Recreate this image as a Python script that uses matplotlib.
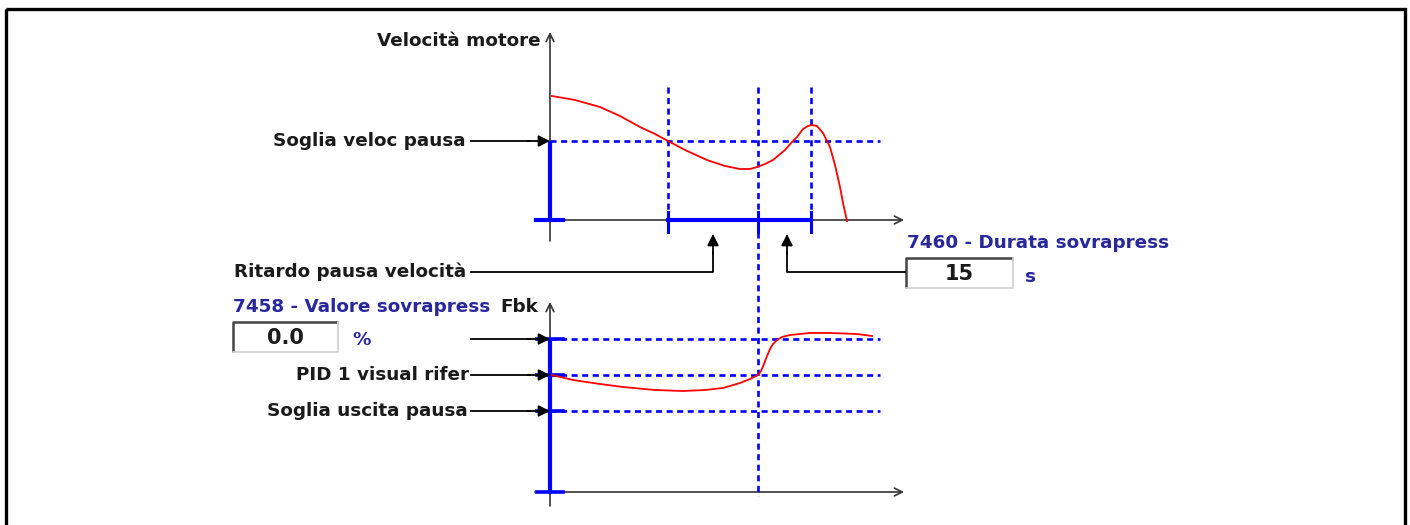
import matplotlib
matplotlib.use("Agg")
import matplotlib.pyplot as plt
from matplotlib.patches import Rectangle

# ---- data (pixel-like units, y grows downwards) ----
speed_t = [552, 575, 600, 620, 640, 655, 668, 685, 707, 725, 740, 750, 757, 765, 773, 785, 792,
           797, 803, 808, 812, 817, 823, 830, 835, 840, 843, 847]
speed_y = [96, 100, 107, 116, 127, 134, 141, 150, 160, 166, 169, 169, 167, 164, 160, 150, 142,
           137, 129, 126, 125, 126, 133, 147, 165, 187, 203, 221]

fbk_t = [552, 573, 600, 623, 655, 683, 705, 723, 740, 750, 758, 761, 764, 767, 770, 773, 777,
         782, 790, 810, 830, 857, 872]
fbk_y = [375, 380, 384, 387, 390, 391, 390, 388, 383, 379, 375, 371, 364, 356, 349, 344, 340,
         337, 335, 333, 333, 334, 336]

event_t = [668, 758, 811]           # pause delay start / overpress start / overpress end
speed_levels = [141]                # Soglia veloc pausa
fbk_levels = [339, 375, 411]        # sovrapress / PID rifer / soglia uscita

BLUE = "#0000ff"
RED = "#ff0000"
TXT = "#1a1a1a"
NAVY = "#28289a"
DASH = (0, (2.3, 1.7))
FS = 13.2


def axis_arrow(ax, x0, y0, x1, y1):
    ax.annotate("", xy=(x1, y1), xytext=(x0, y0),
                arrowprops=dict(arrowstyle="->", color="#333333", lw=1.2,
                                mutation_scale=14, shrinkA=0, shrinkB=0), zorder=1)


def pointer(ax, x0, y0, x1, y1):
    ax.annotate("", xy=(x1, y1), xytext=(x0, y0),
                arrowprops=dict(arrowstyle="-|>", color="black", lw=1.3,
                                mutation_scale=17, shrinkA=0, shrinkB=0), zorder=5)


def entry_box(ax, x0, y0, x1, y1, text):
    ax.add_patch(Rectangle((x0, y0), x1 - x0, y1 - y0, facecolor="white", edgecolor="none"))
    ax.plot([x0, x0, x1], [y1, y0, y0], color="#444444", lw=1.8, solid_capstyle="butt")
    ax.plot([x0, x1, x1], [y1, y1, y0], color="#cfcfcf", lw=1.2)
    ax.text((x0 + x1) / 2, (y0 + y1) / 2 + 1, text, ha="center", va="center",
            fontsize=15, fontweight="bold", color=TXT)


def main():
    fig = plt.figure(figsize=(14.1, 5.25), dpi=100)
    ax = fig.add_axes([0, 0, 1, 1])
    ax.set_xlim(0, 1410)
    ax.set_ylim(525, 0)
    ax.axis("off")

    # frame
    ax.add_patch(Rectangle((5.5, 8.5), 1399, 530, fill=False, edgecolor="black", lw=2.4))

    # ======================= top chart: motor speed =======================
    axis_arrow(ax, 550, 241, 550, 32)
    axis_arrow(ax, 535, 220, 904, 220)

    ax.plot([550, 550], [141, 220], color=BLUE, lw=3, solid_capstyle="butt", zorder=4)
    ax.plot([536, 563], [220, 220], color=BLUE, lw=3, zorder=4)
    for lvl in speed_levels:
        ax.plot([550, 880], [lvl, lvl], color=BLUE, lw=1.9, linestyle=DASH, zorder=3)
    for t in event_t:
        ax.plot([t, t], [87, 232], color=BLUE, lw=1.9, linestyle=DASH, zorder=3)
    ax.plot([event_t[0], event_t[-1]], [220, 220], color=BLUE, lw=3, zorder=4)
    for t in event_t:
        ax.plot([t, t], [212, 232], color=BLUE, lw=2.2, zorder=4)
    # continuation of the overpressure start into the lower chart
    ax.plot([event_t[1], event_t[1]], [232, 496], color=BLUE, lw=1.9, linestyle=DASH, zorder=3)

    ax.plot(speed_t, speed_y, color=RED, lw=1.3, zorder=4)

    ax.text(541, 41, "Velocità motore", ha="right", va="center",
            fontsize=FS, fontweight="bold", color=TXT)
    ax.text(466, 141, "Soglia veloc pausa", ha="right", va="center",
            fontsize=FS, fontweight="bold", color=TXT)
    ax.plot([471, 530], [141, 141], color="black", lw=1.3)
    pointer(ax, 528, 141, 550, 141)

    # delay pointer
    ax.text(466, 272, "Ritardo pausa velocità", ha="right", va="center",
            fontsize=FS, fontweight="bold", color=TXT)
    ax.plot([471, 713, 713], [272, 272, 252], color="black", lw=1.3)
    pointer(ax, 713, 254, 713, 234)

    # overpressure duration
    ax.text(907, 243, "7460 - Durata sovrapress", ha="left", va="center",
            fontsize=FS, fontweight="bold", color=NAVY)
    entry_box(ax, 906, 258, 1013, 288, "15")
    ax.text(1030, 277, "s", ha="center", va="center",
            fontsize=FS, fontweight="bold", color=NAVY)
    ax.plot([905, 787, 787], [272, 272, 252], color="black", lw=1.3)
    pointer(ax, 787, 254, 787, 234)

    # ======================= bottom chart: feedback =======================
    axis_arrow(ax, 550, 506, 550, 302)
    axis_arrow(ax, 535, 492, 904, 492)

    ax.plot([550, 550], [fbk_levels[0], 492], color=BLUE, lw=3, solid_capstyle="butt", zorder=4)
    for lvl in fbk_levels + [492]:
        ax.plot([537, 563], [lvl, lvl], color=BLUE, lw=2.6, zorder=4)
    for lvl in fbk_levels:
        ax.plot([550, 880], [lvl, lvl], color=BLUE, lw=1.9, linestyle=DASH, zorder=3)

    ax.plot(fbk_t, fbk_y, color=RED, lw=1.3, zorder=4)

    ax.text(233, 307, "7458 - Valore sovrapress", ha="left", va="center",
            fontsize=FS, fontweight="bold", color=NAVY)
    ax.text(538, 307, "Fbk", ha="right", va="center",
            fontsize=FS, fontweight="bold", color=TXT)
    entry_box(ax, 233, 322, 338, 352, "0.0")
    ax.text(362, 340, "%", ha="center", va="center",
            fontsize=FS, fontweight="bold", color=NAVY)
    ax.plot([471, 530], [339, 339], color="black", lw=1.3)
    pointer(ax, 528, 339, 550, 339)

    ax.text(469, 375, "PID 1 visual rifer", ha="right", va="center",
            fontsize=FS, fontweight="bold", color=TXT)
    ax.plot([471, 530], [375, 375], color="black", lw=1.3)
    pointer(ax, 528, 375, 550, 375)

    ax.text(468, 411, "Soglia uscita pausa", ha="right", va="center",
            fontsize=FS, fontweight="bold", color=TXT)
    ax.plot([471, 530], [411, 411], color="black", lw=1.3)
    pointer(ax, 528, 411, 550, 411)

    fig.savefig("out.png", dpi=100)


if __name__ == "__main__":
    main()
